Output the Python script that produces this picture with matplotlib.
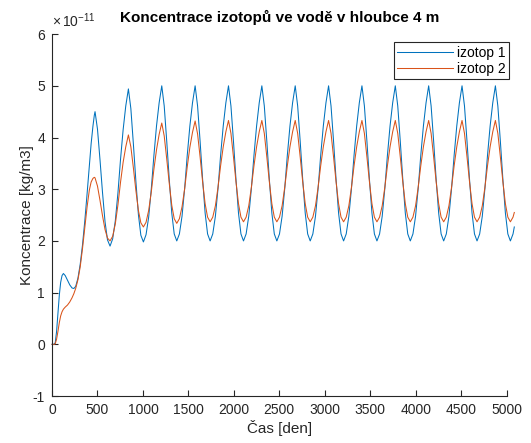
import matplotlib.pyplot as plt
from matplotlib.ticker import FuncFormatter

plt.rcParams['font.family'] = ['Liberation Sans', 'DejaVu Sans']
plt.rcParams['mathtext.fontset'] = 'custom'
plt.rcParams['mathtext.rm'] = 'Liberation Sans'
plt.rcParams['mathtext.it'] = 'Liberation Sans:italic'
plt.rcParams['axes.unicode_minus'] = False

# Concentration values in units of 1e-11 kg/m3
scale = 1e-11

# start-up phase, day 0 up to the first peak
init_days = [0, 20, 35, 50, 65, 80, 95, 110, 125, 145, 170, 195, 220, 240,
             260, 285, 310, 335, 360, 385, 410, 430, 450, 465, 473]
init_iso1 = [0.0, 0.0, 0.03, 0.25, 0.6, 0.95, 1.2, 1.33, 1.37, 1.33, 1.24, 1.15, 1.09, 1.08,
             1.12, 1.28, 1.55, 1.92, 2.38, 2.9, 3.45, 3.88, 4.22, 4.43, 4.5]
init_iso2 = [0.0, 0.0, 0.01, 0.1, 0.25, 0.42, 0.55, 0.63, 0.68, 0.72, 0.76, 0.82, 0.9, 0.98,
             1.08, 1.25, 1.5, 1.85, 2.25, 2.65, 2.98, 3.14, 3.21, 3.23, 3.22]

# yearly cycles: peak days and sample offsets (days) around each peak
peak_days = [473, 840, 1207, 1574, 1941, 2308, 2675, 3042, 3409, 3776, 4143, 4510, 4877]
rise_off = [-173, -144, -115, -87, -58, -29, 0]
fall_off = [27, 55, 82, 110, 137, 165]
tail_off = [194, 208]

# falling part of first cycle
fall1_iso1 = [4.16, 3.56, 2.94, 2.37, 2.02, 1.9]
fall1_iso2 = [3.06, 2.78, 2.49, 2.22, 2.055, 2.0]

# cycles 2..13: rise (7 values incl. peak) + fall (6 values)
cycles_iso1 = [
    [2.04, 2.39, 2.93, 3.57, 4.15, 4.61, 4.94, 4.56, 3.87, 3.16, 2.51, 2.11, 1.98],
    [2.12, 2.46, 3.01, 3.64, 4.22, 4.67, 5.0, 4.61, 3.92, 3.2, 2.54, 2.135, 2.0],
    [2.135, 2.48, 3.02, 3.65, 4.22, 4.67, 5.0, 4.61, 3.92, 3.2, 2.54, 2.135, 2.0],
    [2.135, 2.48, 3.02, 3.65, 4.22, 4.67, 5.0, 4.61, 3.92, 3.2, 2.54, 2.135, 2.0],
    [2.135, 2.48, 3.02, 3.65, 4.22, 4.67, 5.0, 4.61, 3.92, 3.2, 2.54, 2.135, 2.0],
    [2.135, 2.48, 3.02, 3.65, 4.22, 4.67, 5.0, 4.61, 3.92, 3.2, 2.54, 2.135, 2.0],
    [2.135, 2.48, 3.02, 3.65, 4.22, 4.67, 5.0, 4.61, 3.92, 3.2, 2.54, 2.135, 2.0],
    [2.135, 2.48, 3.02, 3.65, 4.22, 4.67, 5.0, 4.61, 3.92, 3.2, 2.54, 2.135, 2.0],
    [2.135, 2.48, 3.02, 3.65, 4.22, 4.67, 5.0, 4.61, 3.92, 3.2, 2.54, 2.135, 2.0],
    [2.135, 2.48, 3.02, 3.65, 4.22, 4.67, 5.0, 4.61, 3.92, 3.2, 2.54, 2.135, 2.0],
    [2.135, 2.48, 3.02, 3.65, 4.22, 4.67, 5.0, 4.61, 3.92, 3.2, 2.54, 2.135, 2.0],
    [2.135, 2.48, 3.02, 3.65, 4.22, 4.67, 5.0, 4.61, 3.92, 3.2, 2.54, 2.135, 2.0],
]
cycles_iso2 = [
    [2.09, 2.33, 2.70, 3.13, 3.52, 3.82, 4.05, 3.82, 3.41, 2.98, 2.59, 2.35, 2.27],
    [2.36, 2.59, 2.95, 3.38, 3.76, 4.06, 4.28, 4.03, 3.58, 3.12, 2.69, 2.43, 2.34],
    [2.43, 2.66, 3.01, 3.43, 3.81, 4.10, 4.32, 4.07, 3.62, 3.15, 2.72, 2.46, 2.37],
    [2.46, 2.68, 3.04, 3.45, 3.82, 4.11, 4.33, 4.08, 3.62, 3.15, 2.72, 2.46, 2.37],
    [2.46, 2.68, 3.04, 3.45, 3.82, 4.11, 4.33, 4.08, 3.62, 3.15, 2.72, 2.46, 2.37],
    [2.46, 2.68, 3.04, 3.45, 3.82, 4.11, 4.33, 4.08, 3.62, 3.15, 2.72, 2.46, 2.37],
    [2.46, 2.68, 3.04, 3.45, 3.82, 4.11, 4.33, 4.08, 3.62, 3.15, 2.72, 2.46, 2.37],
    [2.46, 2.68, 3.04, 3.45, 3.82, 4.11, 4.33, 4.08, 3.62, 3.15, 2.72, 2.46, 2.37],
    [2.46, 2.68, 3.04, 3.45, 3.82, 4.11, 4.33, 4.08, 3.62, 3.15, 2.72, 2.46, 2.37],
    [2.46, 2.68, 3.04, 3.45, 3.82, 4.11, 4.33, 4.08, 3.62, 3.15, 2.72, 2.46, 2.37],
    [2.46, 2.68, 3.04, 3.45, 3.82, 4.11, 4.33, 4.08, 3.62, 3.15, 2.72, 2.46, 2.37],
    [2.46, 2.68, 3.04, 3.45, 3.82, 4.11, 4.33, 4.08, 3.62, 3.15, 2.72, 2.46, 2.37],
]

tail_iso1 = [2.135, 2.27]
tail_iso2 = [2.46, 2.55]

# assemble the series
days = list(init_days) + [peak_days[0] + o for o in fall_off]
iso1 = list(init_iso1) + fall1_iso1
iso2 = list(init_iso2) + fall1_iso2
for p, c1, c2 in zip(peak_days[1:], cycles_iso1, cycles_iso2):
    days += [p + o for o in rise_off + fall_off]
    iso1 += c1
    iso2 += c2
days += [peak_days[-1] + o for o in tail_off]
iso1 += tail_iso1
iso2 += tail_iso2

iso1 = [v * scale for v in iso1]
iso2 = [v * scale for v in iso2]

# Plotting
fig = plt.figure(figsize=(5.31, 4.43), dpi=100, facecolor='white')
ax = fig.add_axes([0.098, 0.106, 0.856, 0.817])

ax.plot(days, iso1, color='#0072BD', lw=0.75, label='izotop 1', clip_on=False)
ax.plot(days, iso2, color='#D95319', lw=0.75, label='izotop 2', clip_on=False)

ax.set_xlim(0, 5000)
ax.set_ylim(-1e-11, 6e-11)
ax.set_xticks(range(0, 5001, 500))
ax.set_yticks([i * scale for i in range(-1, 7)])
ax.yaxis.set_major_formatter(FuncFormatter(lambda v, p: '%d' % round(v / scale)))

tc = '#262626'
for s in ['top', 'right']:
    ax.spines[s].set_visible(False)
for s in ['left', 'bottom']:
    ax.spines[s].set_color(tc)
    ax.spines[s].set_linewidth(0.8)
ax.tick_params(direction='in', length=4, width=0.8, colors=tc, labelsize=10, pad=5)

# exponent label like MATLAB
ax.text(0.0, 1.012, r'$\times\,10^{-11}$', transform=ax.transAxes, ha='left', va='bottom',
        fontsize=10, color=tc)

ax.set_title('Koncentrace izotopů ve vodě v hloubce 4 m', fontsize=11, fontweight='bold',
             color='black', pad=9)
ax.set_xlabel('Čas [den]', fontsize=11, color=tc, labelpad=2)
ax.set_ylabel('Koncentrace [kg/m3]', fontsize=11, color=tc, labelpad=-1)

leg = ax.legend(loc='upper right', bbox_to_anchor=(1.006, 0.978), fontsize=10,
                frameon=True, fancybox=False, edgecolor=tc, framealpha=1,
                handlelength=4.0, borderpad=0.25, labelspacing=0.15, handletextpad=0.3,
                borderaxespad=0)
leg.get_frame().set_linewidth(0.8)

plt.savefig('out.png', dpi=100)
